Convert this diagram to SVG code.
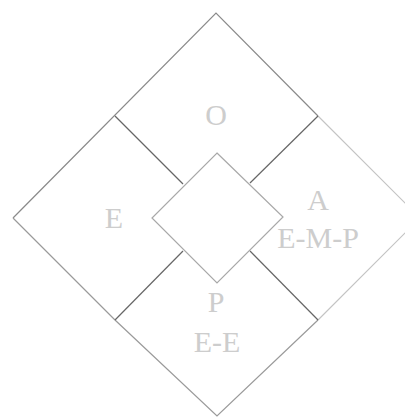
<svg xmlns="http://www.w3.org/2000/svg" width="405" height="417" viewBox="0 0 405 417">
<style>
.t{font-family:"Liberation Serif",serif;font-size:30px;fill:#cdcdcd;text-anchor:middle}
.l{fill:none;stroke-width:1.2}
</style>
<rect width="405" height="417" fill="#fff"/>
<g id="outer">
<path class="l" d="M13,218 L216,13 L318,116" stroke="#8a8a8a"/>
<path class="l" d="M318,116 L420,218 L318,320" stroke="#c4c4c4"/>
<path class="l" d="M318,320 L217,416 L115,320 L13,218" stroke="#9a9a9a"/>
</g>
<g id="connectors">
<line class="l" x1="115" y1="116" x2="183" y2="184" stroke="#666"/>
<line class="l" x1="318" y1="116" x2="250" y2="183" stroke="#666"/>
<line class="l" x1="115" y1="320" x2="183" y2="251" stroke="#666"/>
<line class="l" x1="318" y1="320" x2="250" y2="251" stroke="#666"/>
</g>
<g id="center">
<path class="l" d="M217,153 L283,217 L217,283 L152,218 Z" stroke="#a8a8a8"/>
</g>
<g id="node-O"><text class="t" x="216" y="125">O</text></g>
<g id="node-E"><text class="t" x="114" y="228">E</text></g>
<g id="node-A"><text class="t" x="318" y="210">A</text><text class="t" x="318" y="248">E-M-P</text></g>
<g id="node-P"><text class="t" x="216" y="312">P</text><text class="t" x="217" y="352">E-E</text></g>
</svg>
